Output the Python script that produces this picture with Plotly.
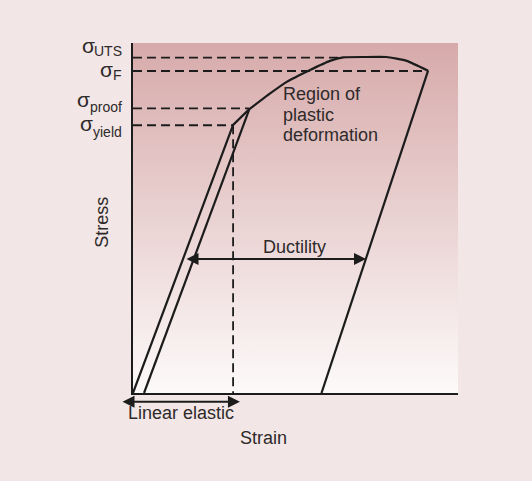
import plotly.graph_objects as go

# ---- data (arbitrary units: strain 0-100, stress 0-100) ----
elastic_strain = [0, 30.8, 35.8]
elastic_stress = [0, 76.6, 81.1]

plastic_strain = [35.8, 42.2, 47.3, 54.5, 60.6, 64.7, 71.0, 78.0, 84.2, 90.8]
plastic_stress = [81.1, 85.6, 88.9, 92.3, 94.9, 95.9, 96.0, 96.0, 94.9, 92.1]

unload_strain = [90.8, 58.0]
unload_stress = [92.1, 0]

offset_strain = [3.4, 35.8]
offset_stress = [0, 81.1]

level_names = ["UTS", "F", "proof", "yield"]
level_stress = [95.8, 92.0, 81.3, 76.5]
level_strain_end = [63.2, 90.8, 35.7, 30.8]

yield_strain = 30.8
ductility_y = 38.3
ductility_from = 16.0
ductility_to = 71.7
elastic_from = -3.7
elastic_to = 32.9
elastic_arrow_y = -2.5

X_RANGE = [0, 100]
Y_RANGE = [0, 100]
PLOT_W = 325   # plot area width in px
PLOT_H = 350   # plot area height in px
PLOT_L = 133   # left margin px
PLOT_T = 43    # top margin px

INK = "#1c1c1c"
TXT = "#2e2a2a"
FONT = "Liberation Sans, Arial, sans-serif"

# label layout (pixel positions in figure, for sigma symbols and subscripts)
sigma_right_px = [94.5, 113.0, 89.6, 92.7]
sigma_center_px = [45.6, 69.0, 99.8, 123.6]
sub_center_px = [51.5, 74.6, 107.4, 131.6]
sub_right_px = 122.0


def fx(px):  # figure pixel x -> paper fraction
    return (px - PLOT_L) / PLOT_W


def fy(py):  # figure pixel y -> paper fraction
    return (PLOT_T + PLOT_H - py) / PLOT_H


def dx(v):  # data x -> paper fraction
    return (v - X_RANGE[0]) / (X_RANGE[1] - X_RANGE[0])


def dy(v):  # data y -> paper fraction
    return (v - Y_RANGE[0]) / (Y_RANGE[1] - Y_RANGE[0])


fig = go.Figure()

# background gradient of plot area
fig.add_trace(go.Scatter(
    x=[X_RANGE[0], X_RANGE[1], X_RANGE[1], X_RANGE[0], X_RANGE[0]],
    y=[Y_RANGE[0], Y_RANGE[0], Y_RANGE[1], Y_RANGE[1], Y_RANGE[0]],
    mode="lines", fill="toself", line=dict(width=0),
    fillgradient=dict(type="vertical",
                      colorscale=[[0, "#fdfafa"], [1, "#d7aaaa"]]),
    hoverinfo="skip", showlegend=False))

# dashed reference lines
for s, e in zip(level_stress, level_strain_end):
    fig.add_trace(go.Scatter(x=[0, e], y=[s, s], mode="lines",
                             line=dict(color=INK, width=1.8, dash="9px,5px"),
                             hoverinfo="skip", showlegend=False))
fig.add_trace(go.Scatter(x=[yield_strain, yield_strain], y=[level_stress[3], 0],
                         mode="lines",
                         line=dict(color=INK, width=1.8, dash="9px,5px"),
                         hoverinfo="skip", showlegend=False))

# curves
fig.add_trace(go.Scatter(x=elastic_strain, y=elastic_stress, mode="lines",
                         line=dict(color=INK, width=2.2), showlegend=False))
fig.add_trace(go.Scatter(x=plastic_strain, y=plastic_stress, mode="lines",
                         line=dict(color=INK, width=2.2, shape="spline", smoothing=0.4),
                         showlegend=False))
fig.add_trace(go.Scatter(x=unload_strain, y=unload_stress, mode="lines",
                         line=dict(color=INK, width=2.2), showlegend=False))
fig.add_trace(go.Scatter(x=offset_strain, y=offset_stress, mode="lines",
                         line=dict(color=INK, width=2.2), showlegend=False))

ann = []
# sigma labels: symbol + subscript as separate texts
for name, sr, sc, bc in zip(level_names, sigma_right_px, sigma_center_px, sub_center_px):
    ann.append(dict(x=fx(sr), y=fy(sc), xref="paper", yref="paper", text="σ",
                    showarrow=False, xanchor="right", yanchor="middle",
                    borderpad=0, borderwidth=0,
                    font=dict(size=21, color=TXT, family=FONT)))
    ann.append(dict(x=fx(sub_right_px), y=fy(bc), xref="paper", yref="paper", text=name,
                    showarrow=False, xanchor="right", yanchor="middle",
                    borderpad=0, borderwidth=0,
                    font=dict(size=14, color=TXT, family=FONT)))

# arrows
ann.append(dict(x=ductility_to, y=ductility_y, ax=ductility_from, ay=ductility_y,
                xref="x", yref="y", axref="x", ayref="y", text="",
                showarrow=True, arrowhead=2, arrowside="end+start", arrowsize=1.2,
                arrowwidth=2, arrowcolor=INK, standoff=0, startstandoff=0))
ann.append(dict(x=dx(elastic_to), y=dy(elastic_arrow_y),
                ax=(elastic_from - elastic_to) / (X_RANGE[1] - X_RANGE[0]) * PLOT_W, ay=0,
                xref="paper", yref="paper", axref="pixel", ayref="pixel", text="",
                showarrow=True, arrowhead=2, arrowside="end+start", arrowsize=1.2,
                arrowwidth=2, arrowcolor=INK, standoff=0, startstandoff=0))


# texts
def txt(x, y, t, xanchor="center", angle=0):
    ann.append(dict(x=dx(x), y=dy(y), xref="paper", yref="paper", text=t,
                    showarrow=False, xanchor=xanchor, yanchor="middle", textangle=angle,
                    font=dict(size=18, color=TXT, family=FONT)))


txt(45.6, 85.4, "Region of", "left")
txt(45.6, 79.5, "plastic", "left")
txt(45.6, 73.7, "deformation", "left")
txt(49.8, 41.8, "Ductility")
txt(14.7, -5.8, "Linear elastic")
txt(40.0, -12.9, "Strain")
txt(-9.6, 48.9, "Stress", angle=-90)

fig.update_layout(
    width=532, height=481,
    margin=dict(l=PLOT_L, r=532 - PLOT_L - PLOT_W, t=PLOT_T, b=481 - PLOT_T - PLOT_H),
    paper_bgcolor="#f2e6e6", plot_bgcolor="rgba(0,0,0,0)",
    annotations=ann, showlegend=False,
    xaxis=dict(range=X_RANGE, showgrid=False, zeroline=False, showticklabels=False,
               ticks="", showline=True, linecolor=INK, linewidth=2, fixedrange=True),
    yaxis=dict(range=Y_RANGE, showgrid=False, zeroline=False, showticklabels=False,
               ticks="", showline=True, linecolor=INK, linewidth=2, fixedrange=True),
)

fig.write_html("out.html", config={"displayModeBar": False},
               post_script="document.body.style.margin='0';"
                           "document.body.style.background='#f2e6e6';")
